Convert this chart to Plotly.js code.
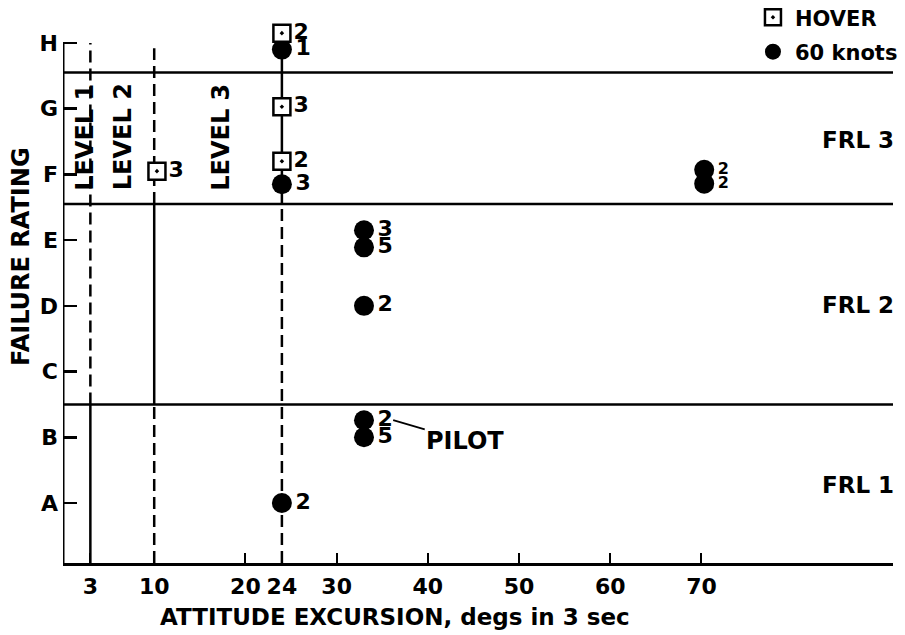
<!DOCTYPE html>
<html>
<head>
<meta charset="utf-8">
<script src="https://cdn.plot.ly/plotly-3.0.1.min.js"></script>
<style>html,body{margin:0;padding:0;background:#fff;}#chart{width:905px;height:635px;}</style>
</head>
<body>
<div id="chart"></div>
<script>
// ---------- data ----------
const yTickVals = [1, 2, 3, 4, 5, 6, 7, 8];
const yTickText = ['A', 'B', 'C', 'D', 'E', 'F', 'G', 'H'];
const xTickVals = [3, 10, 20, 24, 30, 40, 50, 60, 70];
const xTickText = ['3', '10', '20', '24', '30', '40', '50', '60', '70'];

const hoverX = [24, 24, 24, 10.3];
const hoverY = [8.15, 7.03, 6.2, 6.05];
const hoverPilots = ['2', '3', '2', '3'];

const knotsX = [24, 24, 33, 33, 33, 33, 33, 24, 70.3, 70.3];
const knotsY = [7.9, 5.85, 5.15, 4.89, 4.0, 2.26, 2.0, 1.0, 6.07, 5.86];
const knotsPilots = ['1', '3', '3', '5', '2', '2', '5', '2', '2', '2'];

const frlBounds = [2.5, 5.55, 7.55];
const frlLabels = ['FRL 1', 'FRL 2', 'FRL 3'];
const frlLabelY = [1.27, 4.02, 6.52];

const levelLabels = ['LEVEL 1', 'LEVEL 2', 'LEVEL 3'];
const levelLabelX = [2.4, 6.6, 17.3];
const levelLabelY = 6.57;

// level boundary segments: [x, yFrom, yTo]
const solidLevelSegments = [[3, 0.087, 2.5], [10, 2.5, 5.55], [24, 5.85, 8.15]];
const dashedLevelSegments = [[3, 2.5, 8.0], [10, 5.55, 7.92], [10, 0.087, 2.5], [24, 0.087, 5.85]];

const pilotNote = {text: 'PILOT', x: 36.2, y: 2.26, tx: 44.1, ty: 1.94};

// ---------- layout helpers ----------
const xRange = [0, 91];
const yRange = [0.087, 8.35];
const FONT = 'DejaVu Sans, Liberation Sans, Arial, sans-serif';
const bold = (size) => ({family: FONT, size: size, color: '#000', weight: 'bold'});

const knotsSizes = knotsX.map(x => x > 60 ? 16 : 22);

const traces = [
  {
    type: 'scatter', mode: 'markers+text', name: '60 knots',
    x: knotsX, y: knotsY, text: knotsPilots,
    textposition: 'middle right',
    textfont: {family: FONT, size: knotsSizes, color: '#000', weight: 'bold'},
    marker: {symbol: 'circle', size: 20, color: '#000', line: {width: 0}},
    legendrank: 2, legendgroup: 'k', cliponaxis: false
  },
  {
    type: 'scatter', mode: 'markers+text', name: 'HOVER',
    x: hoverX, y: hoverY, text: hoverPilots,
    textposition: 'middle right',
    textfont: bold(22),
    marker: {symbol: 'square-dot', size: 17, color: '#fff', line: {width: 2.5, color: '#000'}},
    legendrank: 1, legendgroup: 'h', cliponaxis: false
  }
];

const shapes = [];
// y axis line up to H
shapes.push({type: 'line', xref: 'x', yref: 'y', x0: 0, x1: 0, y0: yRange[0], y1: 8, line: {color: '#000', width: 3}});
frlBounds.forEach(b => shapes.push({type: 'line', xref: 'x', yref: 'y', x0: xRange[0], x1: xRange[1], y0: b, y1: b, line: {color: '#000', width: 2.5}, layer: 'below'}));
solidLevelSegments.forEach(s => shapes.push({type: 'line', xref: 'x', yref: 'y', x0: s[0], x1: s[0], y0: s[1], y1: s[2], line: {color: '#000', width: 2.5}, layer: 'below'}));
dashedLevelSegments.forEach(s => shapes.push({type: 'line', xref: 'x', yref: 'y', x0: s[0], x1: s[0], y0: s[1], y1: s[2], line: {color: '#000', width: 2.5, dash: '12px,6px'}, layer: 'below'}));

const plotW = 905 - 63 - 12, plotH = 635 - 20 - 72;
const annotations = [];
frlLabels.forEach((t, i) => annotations.push({text: t, x: 1.004, xref: 'paper', xanchor: 'right', y: frlLabelY[i], yref: 'y', showarrow: false, font: bold(23)}));
levelLabels.forEach((t, i) => annotations.push({text: t, x: levelLabelX[i], xref: 'x', y: levelLabelY, yref: 'y', textangle: -90, showarrow: false, font: bold(24)}));
annotations.push({text: pilotNote.text, x: pilotNote.x, y: pilotNote.y, xref: 'x', yref: 'y',
  ax: pilotNote.tx, ay: pilotNote.ty, axref: 'x', ayref: 'y', showarrow: true, arrowhead: 0, arrowwidth: 1.8, arrowcolor: '#000', font: bold(24)});
// axis titles
annotations.push({text: 'ATTITUDE EXCURSION, degs in 3 sec', x: (395 - 63) / plotW, xref: 'paper', xanchor: 'center',
  y: -(617 - 563) / plotH, yref: 'paper', yanchor: 'middle', showarrow: false, font: bold(23)});
annotations.push({text: 'FAILURE RATING', textangle: -90, x: -(63 - 21) / plotW, xref: 'paper', xanchor: 'center',
  y: (563 - 257) / plotH, yref: 'paper', yanchor: 'middle', showarrow: false, font: bold(24)});

const layout = {
  width: 905, height: 635,
  margin: {l: 63, r: 12, t: 20, b: 72, autoexpand: false},
  paper_bgcolor: '#fff', plot_bgcolor: '#fff',
  showlegend: true,
  legend: {x: 1.012, xanchor: 'right', y: 1.042, yanchor: 'top', font: bold(21), bgcolor: 'rgba(0,0,0,0)', tracegroupgap: 4, itemsizing: 'trace', itemwidth: 34},
  xaxis: {
    range: xRange, tickvals: xTickVals, ticktext: xTickText, ticks: 'inside', ticklen: 10, tickwidth: 2, tickcolor: '#000',
    showline: true, linewidth: 3, linecolor: '#000', showgrid: false, zeroline: false, tickfont: bold(22), ticklabelstandoff: 2,
    title: {text: ''}
  },
  yaxis: {
    range: yRange, tickvals: yTickVals, ticktext: yTickText, ticks: 'inside', ticklen: 14, tickwidth: 2.5, tickcolor: '#000',
    showline: false, showgrid: false, zeroline: false, tickfont: bold(22), ticklabelstandoff: 4,
    title: {text: ''}
  },
  shapes: shapes,
  annotations: annotations
};

Plotly.newPlot('chart', traces, layout, {displayModeBar: false, staticPlot: true});
</script>
</body>
</html>
